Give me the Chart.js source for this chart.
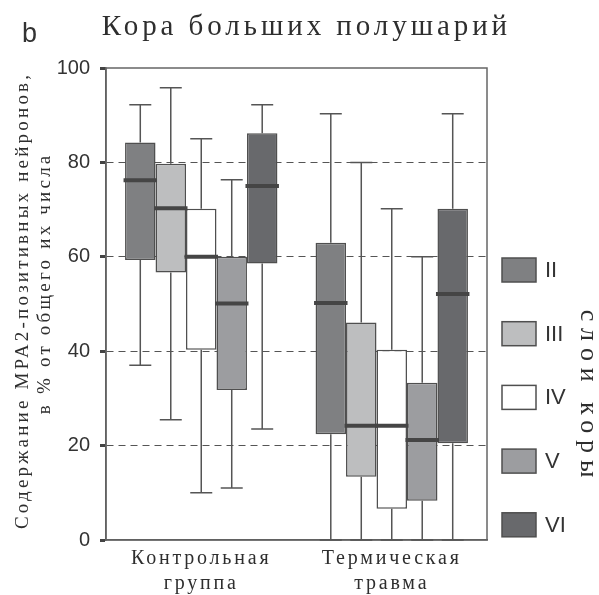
<!DOCTYPE html>
<html>
<head>
<meta charset="utf-8">
<script src="https://cdn.jsdelivr.net/npm/chart.js@4/dist/chart.umd.min.js"></script>
<style>
  html, body { margin: 0; padding: 0; background: #ffffff; }
  canvas { display: block; }
</style>
</head>
<body>
<canvas id="chart" width="599" height="595"></canvas>
<script>
// Groups on the x axis and cortical layers (one box series per layer)
const groupLabels = [['Контрольная', 'группа'], ['Термическая', 'травма']];
const layerNames = ['II', 'III', 'IV', 'V', 'VI'];

// Box-plot statistics, one row per layer: [control group, thermal injury]
const whiskerMin = [[37, 0], [25.5, 0], [10, 0], [11, 0], [23.5, 0]];
const quartile1  = [[59.3, 22.4], [56.7, 13.4], [40.3, 6.6], [31.8, 8.3], [58.6, 20.5]];
const medianVal  = [[76.2, 50.2], [70.3, 24.2], [60, 24.2], [50.1, 21.2], [75, 52.1]];
const quartile3  = [[84.2, 63], [79.7, 46.1], [70.2, 40.3], [60, 33.3], [86.2, 70.2]];
const whiskerMax = [[92.2, 90.3], [95.8, 80], [85, 70.2], [76.3, 60], [92.2, 90.3]];

const yTickValues = [0, 20, 40, 60, 80, 100];

const layerColors = ['#7f8082', '#bdbebf', '#ffffff', '#9c9da0', '#68696c'];
const outlineColor = '#4f4f4f';
const textColor = '#333333';
const typeColor = '#2e2e2e';
const TYPE = '"Liberation Serif", "DejaVu Serif", serif';
const SANS = '"Liberation Sans", Arial, sans-serif';

// Text with an even character pitch, optionally rotated.
function pitchedText(ctx, text, x, y, size, pitch, angle) {
  ctx.save();
  ctx.translate(x, y);
  ctx.rotate(angle);
  ctx.font = size + 'px ' + TYPE;
  ctx.letterSpacing = '0px';
  const natural = ctx.measureText(text).width;
  const extra = pitch - natural / text.length;
  ctx.letterSpacing = extra + 'px';
  const w = natural + extra * (text.length - 1);
  ctx.fillStyle = typeColor;
  ctx.textAlign = 'left';
  ctx.textBaseline = 'alphabetic';
  ctx.fillText(text, -w / 2, 0);
  ctx.restore();
}

// Whiskers, caps, medians, frame, titles and the layer legend
const boxPlotPlugin = {
  id: 'boxPlotExtras',
  beforeDatasetsDraw(chart) {
    const { ctx, chartArea: a } = chart;
    ctx.save();
    ctx.strokeStyle = '#666666';
    ctx.lineWidth = 1.5;
    ctx.strokeRect(a.left, a.top, a.right - a.left, a.bottom - a.top);
    ctx.restore();
  },
  afterDatasetsDraw(chart) {
    const { ctx } = chart;
    const y = chart.scales.y;
    ctx.save();
    layerNames.forEach((_, i) => {
      const meta = chart.getDatasetMeta(i);
      meta.data.forEach((bar, j) => {
        const cx = bar.x;
        const half = bar.width / 2;
        const yMin = y.getPixelForValue(whiskerMin[i][j]);
        const yQ1 = y.getPixelForValue(quartile1[i][j]);
        const yQ3 = y.getPixelForValue(quartile3[i][j]);
        const yMax = y.getPixelForValue(whiskerMax[i][j]);
        const yMed = y.getPixelForValue(medianVal[i][j]);
        ctx.strokeStyle = '#555555';
        ctx.lineWidth = 1.5;
        ctx.beginPath();
        ctx.moveTo(cx, yQ3); ctx.lineTo(cx, yMax);
        ctx.moveTo(cx - 11, yMax); ctx.lineTo(cx + 11, yMax);
        ctx.moveTo(cx, yQ1); ctx.lineTo(cx, yMin);
        ctx.moveTo(cx - 11, yMin); ctx.lineTo(cx + 11, yMin);
        ctx.stroke();
        ctx.strokeStyle = '#454545';
        ctx.lineWidth = 4;
        ctx.beginPath();
        ctx.moveTo(cx - half - 1.5, yMed);
        ctx.lineTo(cx + half + 1.5, yMed);
        ctx.stroke();
      });
    });
    ctx.restore();
    // the x tick labels (ticks.z = 1) are drawn next; group names use a wider pitch
    ctx.letterSpacing = '2.8px';
  },
  afterDraw(chart) {
    const { ctx } = chart;
    ctx.letterSpacing = '0px';
    ctx.save();
    // panel letter
    ctx.font = '27px ' + SANS;
    ctx.fillStyle = textColor;
    ctx.textAlign = 'left';
    ctx.textBaseline = 'alphabetic';
    ctx.fillText('b', 22, 41.5);
    ctx.restore();

    // chart title
    pitchedText(ctx, 'Кора больших полушарий', 304.5, 35, 29, 18.6, 0);

    // y-axis title, two lines reading upward
    pitchedText(ctx, 'Содержание МРА2-позитивных нейронов,', 28, 302, 19, 12.7, -Math.PI / 2);
    pitchedText(ctx, 'в % от общего их числа', 50, 285, 19, 11.9, -Math.PI / 2);

    // legend of cortical layers
    ctx.save();
    layerNames.forEach((name, i) => {
      const top = 258 + i * 63.7;
      ctx.fillStyle = layerColors[i];
      ctx.fillRect(502, top, 34, 24);
      ctx.strokeStyle = outlineColor;
      ctx.lineWidth = 1.5;
      ctx.strokeRect(502, top, 34, 24);
      ctx.fillStyle = textColor;
      ctx.font = '22px ' + SANS;
      ctx.textAlign = 'left';
      ctx.textBaseline = 'middle';
      ctx.fillText(name, 545, top + 13);
    });
    ctx.restore();

    // legend title, reading downward
    pitchedText(ctx, 'слои коры', 581, 393.5, 26, 19.4, Math.PI / 2);
  }
};

const datasets = layerNames.map((name, i) => ({
  label: name,
  data: quartile1[i].map((q1, j) => [q1, quartile3[i][j]]),
  backgroundColor: layerColors[i],
  borderColor: outlineColor,
  borderWidth: 1.5,
  borderSkipped: false,
  categoryPercentage: 0.8,
  barPercentage: 1.0
}));

new Chart(document.getElementById('chart'), {
  type: 'bar',
  data: { labels: groupLabels, datasets },
  plugins: [boxPlotPlugin],
  options: {
    responsive: false,
    animation: false,
    devicePixelRatio: 1,
    layout: { padding: { top: 68, right: 112, left: 0, bottom: 0 } },
    plugins: {
      legend: { display: false },
      tooltip: { enabled: false },
      title: { display: false }
    },
    scales: {
      x: {
        type: 'category',
        offset: true,
        grid: { display: false, drawTicks: false },
        border: { display: true, color: '#555555', width: 1.5 },
        ticks: {
          z: 1,
          color: typeColor,
          font: { family: TYPE, size: 20, lineHeight: 1.25 },
          padding: 6,
          maxRotation: 0
        },
        afterFit(scale) { scale.height = 55; }
      },
      y: {
        min: 0,
        max: 100,
        afterBuildTicks(scale) { scale.ticks = yTickValues.map(v => ({ value: v })); },
        grid: {
          color: ctx => (ctx.tick && ctx.tick.value > 0 && ctx.tick.value < 100) ? '#555555' : 'rgba(0,0,0,0)',
          lineWidth: 1,
          tickColor: '#444444',
          tickWidth: 3,
          tickLength: 6,
          tickBorderDash: []
        },
        border: { display: true, color: '#555555', width: 1.5, dash: [7, 5] },
        ticks: {
          color: textColor,
          font: { family: SANS, size: 20 },
          padding: 10
        },
        afterFit(scale) { scale.width = 106; }
      }
    }
  }
});
</script>
</body>
</html>
